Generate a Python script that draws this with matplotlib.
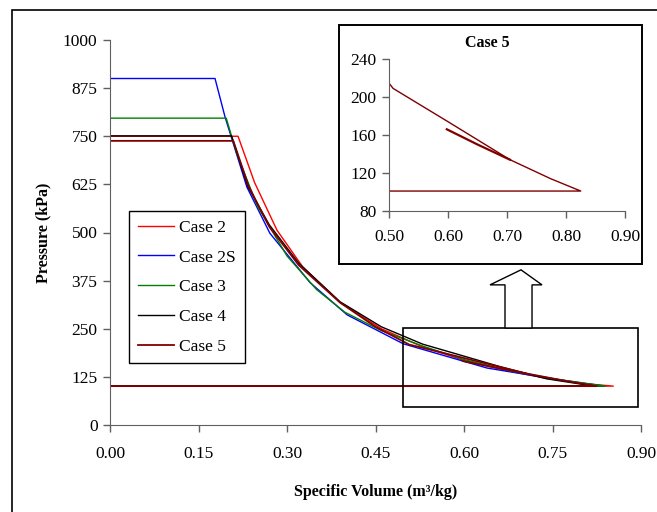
import numpy as np
import matplotlib.pyplot as plt
from matplotlib.patches import Rectangle, Polygon

plt.rcParams['font.family'] = ['Liberation Serif', 'DejaVu Serif']

# specific volume (m3/kg) and pressure (kPa)
v_case2 = [0, 0.217, 0.245, 0.283, 0.327, 0.39, 0.46, 0.53, 0.60, 0.67, 0.74, 0.80, 0.853, 0]
p_case2 = [750, 750, 630, 506, 410, 318, 250, 203, 168, 142, 121, 108, 101, 101]

v_case2s = [0, 0.178, 0.195, 0.232, 0.271, 0.339, 0.402, 0.497, 0.639, 0.734, 0.837, 0]
p_case2s = [900, 900, 800, 618, 498, 370, 286, 211, 148, 124, 101, 101]

v_case3 = [0, 0.197, 0.215, 0.25, 0.30, 0.35, 0.398, 0.46, 0.53, 0.60, 0.68, 0.76, 0.84, 0]
p_case3 = [797, 797, 704, 568, 439, 352, 293, 245, 205, 170, 140, 118, 101, 101]

v_case4 = [0, 0.206, 0.234, 0.27, 0.32, 0.39, 0.46, 0.53, 0.593, 0.66, 0.74, 0.82, 0]
p_case4 = [751, 751, 618, 520, 420, 320, 255, 210, 182, 152, 120, 101, 101]

v_case5 = [0, 0.209, 0.235, 0.27, 0.32, 0.39, 0.45, 0.507, 0.60, 0.705, 0.774, 0.825, 0]
p_case5 = [738, 738, 620, 515, 415, 318, 255, 209, 174, 134, 114, 101, 101]
# short extra piece of case 5 seen in the zoom
v_case5b = [0.598, 0.65, 0.705]
p_case5b = [166, 150, 134]

series = [
    ("Case 2", v_case2, p_case2, "#FF0000", 1.0),
    ("Case 2S", v_case2s, p_case2s, "#0000FF", 1.0),
    ("Case 3", v_case3, p_case3, "#008000", 1.0),
    ("Case 4", v_case4, p_case4, "#000000", 1.0),
    ("Case 5", v_case5, p_case5, "#800000", 1.3),
]

W, H = 657, 512
fig = plt.figure(figsize=(W / 100, H / 100), dpi=100)

def fx(px):
    return px / W

def fy(py):
    return 1 - py / H

gray = "#606060"

# outer chart border (runs off the picture on right and bottom)
fig.add_artist(Rectangle((fx(12), fy(530)), fx(700) - fx(12), fy(10) - fy(530),
                         transform=fig.transFigure, fill=False, edgecolor="black", lw=1.2))

ax = fig.add_axes([fx(110), fy(425), fx(641) - fx(110), fy(40) - fy(425)])
for name, v, p, c, lw in series:
    ax.plot(v, p, color=c, lw=lw, label=name)
ax.plot(v_case5b, p_case5b, color="#800000", lw=1.3)

ax.set_xlim(0, 0.9)
ax.set_ylim(0, 1000)
ax.set_xticks(np.arange(0, 0.91, 0.15))
ax.set_xticklabels([f"{t:.2f}" for t in np.arange(0, 0.91, 0.15)])
ax.set_yticks(np.arange(0, 1001, 125))
ax.tick_params(direction="out", length=5, width=1, color=gray, labelsize=12.5)
ax.tick_params(axis="x", pad=10)
ax.tick_params(axis="y", pad=4)
for s in ["top", "right"]:
    ax.spines[s].set_visible(False)
for s in ["left", "bottom"]:
    ax.spines[s].set_color(gray)
ax.set_xlabel("Specific Volume (m³/kg)", fontsize=11.5, fontweight="bold", labelpad=16)
ax.set_ylabel("Pressure (kPa)", fontsize=11.5, fontweight="bold", labelpad=8)

leg = ax.legend(loc="upper left", bbox_to_anchor=(0.0358, 0.5558), borderaxespad=0,
                fontsize=12.5, handlelength=2.1, labelspacing=0.78, handletextpad=0.3,
                fancybox=False, framealpha=1, borderpad=0.5)
leg.get_frame().set_edgecolor("black")
leg.get_frame().set_linewidth(1.0)

# zoom rectangle and hollow arrow, in data units of the main axes
ax.add_patch(Rectangle((0.497, 47), 0.398, 205, fill=False, edgecolor="black",
                       lw=1.2, clip_on=False, zorder=5))
arrow_x = [0.6695, 0.6695, 0.6441, 0.6966, 0.7322, 0.7153, 0.7153]
arrow_y = [252, 364, 364, 403, 364, 364, 252]
ax.add_patch(Polygon(np.column_stack([arrow_x, arrow_y]), closed=True, facecolor="white",
                     edgecolor="black", lw=1.0, clip_on=False, zorder=5))

# inset frame
fig.add_artist(Rectangle((fx(339), fy(264)), fx(642) - fx(339), fy(25) - fy(264),
                         transform=fig.transFigure, facecolor="white", edgecolor="black",
                         lw=1.4, zorder=1))

ins = fig.add_axes([fx(389), fy(211), fx(625) - fx(389), fy(59) - fy(211)])
ins.set_zorder(2)
ins.patch.set_alpha(0)
ins.plot(v_case5, p_case5, color="#800000", lw=1.0)
ins.plot(v_case5b, p_case5b, color="#800000", lw=1.6)
ins.set_xlim(0.5, 0.9)
ins.set_ylim(80, 240)
ins.set_xticks(np.arange(0.5, 0.91, 0.1))
ins.set_xticklabels([f"{t:.2f}" for t in np.arange(0.5, 0.91, 0.1)])
ins.set_yticks(np.arange(80, 241, 40))
ins.tick_params(direction="out", length=5, width=1, color=gray, labelsize=12.5)
ins.tick_params(axis="x", pad=8)
ins.tick_params(axis="y", pad=4)
for s in ["top", "right"]:
    ins.spines[s].set_visible(False)
for s in ["left", "bottom"]:
    ins.spines[s].set_color(gray)
fig.text(fx(487), fy(43), "Case 5", ha="center", va="center", fontsize=11.5,
         fontweight="bold", zorder=3)

fig.savefig("out.png", dpi=100)
